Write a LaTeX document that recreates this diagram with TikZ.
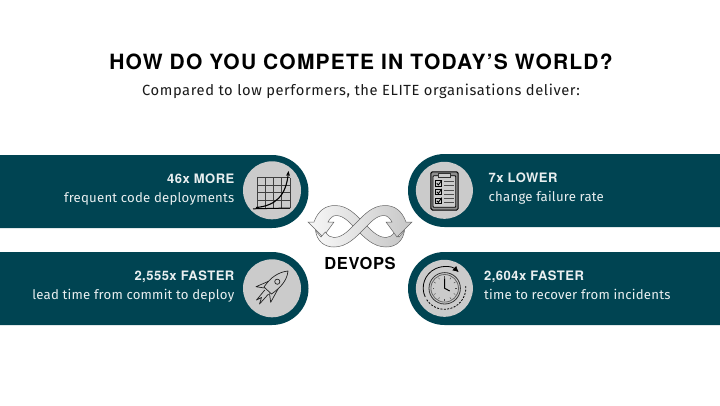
\documentclass[tikz,border=0pt]{standalone}
\usepackage{fontspec}
\setmainfont{Fira Sans}
\newfontfamily\titlefont[LetterSpace=5.7]{TeX Gyre Heros}
\newfontfamily\labelfont[LetterSpace=3.7]{TeX Gyre Heros}
\newfontfamily\subfont[LetterSpace=1.6]{Fira Sans}
\newfontfamily\leadfont[LetterSpace=4]{Fira Sans}
\usetikzlibrary{arrows.meta}
\definecolor{teal}{HTML}{004452}
\definecolor{disc}{HTML}{CBCBCB}
\definecolor{paper}{HTML}{E9EFF0}
\definecolor{ink}{HTML}{222222}
\newcommand{\ribbonoutline}{
  (356.5,222.5) .. controls (364,215) and (372,205.5) .. (385,205.5)
  .. controls (395,205.5) and (402,211) .. (406,222)
  -- (412,222) -- (397,237) -- (386,222) -- (392,222)
  .. controls (390,218) and (387,215.5) .. (384,215.5)
  .. controls (376,215.5) and (370,223) .. (363.5,229.5)
  .. controls (356,237) and (347,247) .. (334,247)
  .. controls (324,247) and (317,241) .. (315.5,230.6)
  -- (321,237) -- (325.3,232)
  .. controls (328,236) and (331,237.5) .. (334,237.5)
  .. controls (343,237.5) and (350,229) .. (356.5,222.5) -- cycle}
\tikzset{
  x=1pt,y=-1pt,
  bar/.style={fill=teal},
  disc/.style={fill=disc},
  head/.style={text=paper,inner sep=0pt,font=\labelfont\bfseries\fontsize{13}{15}\selectfont},
  sub/.style={text=paper,inner sep=0pt,font=\subfont\fontsize{13.2}{15}\selectfont},
  icon/.style={draw=ink,line width=0.8pt,line join=round},
  ribbonA/.style={draw=black!60,line width=0.5pt,line join=miter,left color=black!3,right color=black!22},
  ribbonB/.style={draw=black!60,line width=0.5pt,line join=miter,left color=black!3,right color=black!22},
}
\begin{document}
\begin{tikzpicture}
\useasboundingbox (0,0) rectangle (720,405);
\fill[white] (0,0) rectangle (720,405);
% titles
\node[anchor=base,inner sep=0pt,text=black,font=\titlefont\bfseries\fontsize{21}{24}\selectfont] (title) at (361,69.8) {HOW DO YOU COMPETE IN TODAY’S WORLD?};
\node[anchor=base,inner sep=0pt,text=black!90,font=\leadfont\fontsize{14.7}{17}\selectfont] (lead) at (361,95.6) {Compared to low performers, the ELITE organisations deliver:};
% bars
\fill[bar] (0,155) -- (272,155) arc[start angle=-90,end angle=90,radius=36.5] -- (0,228) -- cycle;
\fill[bar] (0,252) -- (272,252) arc[start angle=-90,end angle=90,radius=36.5] -- (0,325) -- cycle;
\fill[bar] (720,154) -- (444.5,154) arc[start angle=-90,end angle=-270,radius=36.5] -- (720,227) -- cycle;
\fill[bar] (720,252) -- (444.5,252) arc[start angle=-90,end angle=-270,radius=36.5] -- (720,325) -- cycle;
\fill[disc] (272,190.3) circle[radius=29];
\fill[disc] (272,288.3) circle[radius=29];
\fill[disc] (444.4,190.3) circle[radius=28.5];
\fill[disc] (444.4,288.3) circle[radius=28.5];
% bar texts
\node[head,anchor=base east] (a1) at (234.5,183.2) {46x MORE};
\node[sub,anchor=base east] (a2) at (234.5,202.2) {frequent code deployments};
\node[head,anchor=base east] (b1) at (234.5,280.5) {2,555x FASTER};
\node[sub,anchor=base east] (b2) at (234.5,299.5) {lead time from commit to deploy};
\node[head,anchor=base west] (c1) at (488.5,182.2) {7x LOWER};
\node[sub,anchor=base west] (c2) at (488.5,201.2) {change failure rate};
\node[head,anchor=base west] (d1) at (484,280.5) {2,604x FASTER};
\node[sub,anchor=base west] (d2) at (484,299.5) {time to recover from incidents};
% chart icon
\foreach \gx in {257,265.25,273.5,281.75,290}{
  \draw[draw=black!75,line width=0.7pt] (\gx,177.5) -- (\gx,208);
}
\foreach \gy in {177.5,185.1,192.75,200.4,208}{
  \draw[draw=black!75,line width=0.7pt] (257,\gy) -- (290,\gy);
}
\draw[icon,line width=1pt,draw=black] (253,208.8) -- (290,208);
\draw[icon,line width=1.1pt,draw=black,-{Stealth[length=5pt,width=4pt]}] (256,207.5) .. controls (275,206) and (286,196) .. (288.5,171);
% rocket icon
\begin{scope}[icon,line width=0.7pt]
\draw (288,271) .. controls (278,272) and (270,278) .. (264,287) -- (271.5,294) .. controls (280,288) and (287,281) .. (288,271) -- cycle;
\draw (277.3,281.7) circle[radius=2.6];
\draw (268,281.5) -- (256,286.7) -- (264.5,288);
\draw (278,289) -- (270.7,302.3) -- (269.5,293.5);
\draw (264.8,290) -- (256.5,300) -- (261.5,297.5) -- (259.5,304) -- (268.5,294);
\end{scope}
% clipboard icon
\draw[black,line width=1pt,fill=disc!70!black,rounded corners=1.5pt] (430.8,171.8) rectangle (458.2,210);
\draw[black,line width=0.8pt,fill=disc,rounded corners=0.8pt] (433,175.8) rectangle (455.8,207.3);
\draw[black!80,line width=0.6pt,fill=disc] (438,173.4) rectangle (450.7,177.6);
\foreach \yc in {183.3,191.9,200.7}{
  \draw[black,line width=0.8pt] (435.8,\yc-2.8) rectangle (441.5,\yc+2.8);
  \draw[black,line width=0.9pt] (436.8,\yc) -- (438.4,\yc+1.6) -- (441.8,\yc-3);
  \draw[black!70,line width=0.8pt] (443.5,\yc-2) -- (454,\yc-2);
  \draw[black!70,line width=0.8pt] (443.5,\yc+2) -- (454,\yc+2);
}
% clock icon
\draw[black!80,line width=0.8pt,fill=disc] (444.7,288.3) circle[radius=15.7];
\draw[black!60,line width=0.8pt] (444.7,288.3) circle[radius=13.8];
\foreach \ang in {0,30,...,330}{
  \draw[black!70,line width=0.5pt] ([shift={(\ang:10.5)}]444.7,288.3) -- ([shift={(\ang:12.2)}]444.7,288.3);
}
\draw[black,line width=1pt,line join=round] (444.7,278.3) -- (444.7,288.3) -- (449.7,291);
\draw[black,line width=0.8pt,-{Latex[length=6pt,width=6pt]}] ([shift={(155:21.3)}]444.5,288) arc[start angle=155,end angle=312,radius=21.3];
\draw[black,line width=0.8pt,dash pattern=on 2pt off 1.4pt] ([shift={(-5:21.3)}]444.5,288) arc[start angle=-5,end angle=150,radius=21.3];
% DevOps symbol
\begin{scope}[shift={(720,0)},xscale=-1]
\path[ribbonB] \ribbonoutline;
\end{scope}
\path[ribbonA] \ribbonoutline;
\node[anchor=base,inner sep=0pt,text=black,font=\labelfont\bfseries\fontsize{16.5}{18}\selectfont] (devops) at (360,269.5) {DEVOPS};
\end{tikzpicture}
\end{document}
